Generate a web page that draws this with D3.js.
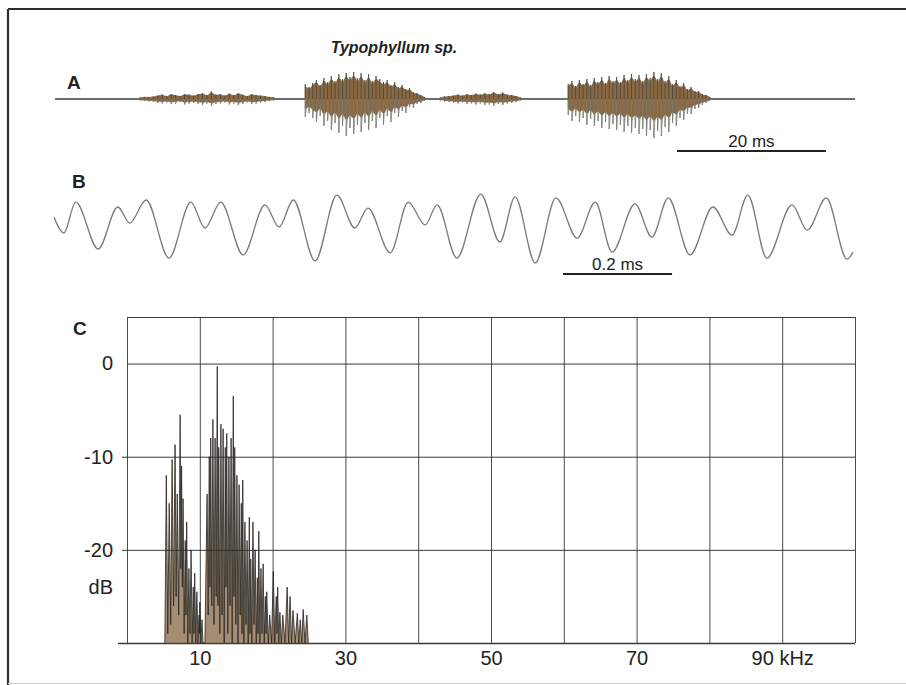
<!DOCTYPE html>
<html>
<head>
<meta charset="utf-8">
<script src="https://cdn.jsdelivr.net/npm/d3@7"></script>
<style>
body { margin: 0; background: #fff; }
svg text { font-family: "Liberation Sans", Arial, sans-serif; fill: #222; }
</style>
</head>
<body>
<div id="chart"></div>
<script>
// A: oscillogram, envelope per burst (time in ms, relative amplitude)
var aTotalMs = 107.4;
var b1Time = [11.4, 12.0, 12.6, 13.2, 13.8, 14.4, 15.0, 15.6, 16.2, 16.8, 17.4, 18.0, 18.6, 19.2, 19.8, 20.4, 21.0, 21.6, 22.2, 22.8, 23.4, 24.0, 24.6, 25.2, 25.8, 26.4, 27.0, 27.6, 28.2, 28.8, 29.4];
var b1Upper = [1.5, 2, 2, 2.5, 3.5, 4.5, 3, 5, 4, 3, 5, 4.5, 3.5, 5, 6, 4, 7.5, 4.5, 5, 3.5, 5.5, 4, 6, 4.5, 3, 5, 4, 3.5, 3, 2, 1.5];
var b1Lower = [-1.5, -2, -2.5, -3, -4, -4.5, -3.5, -5, -4.5, -3, -5.5, -4.5, -4, -5, -6, -4.5, -7, -5, -4.5, -3.5, -5.5, -4.5, -6, -5, -3.5, -5, -4.5, -3.5, -3, -2, -1.5];

var b2Time = [33.6, 34.1, 34.6, 35.1, 35.6, 36.1, 36.6, 37.1, 37.6, 38.1, 38.6, 39.1, 39.6, 40.1, 40.6, 41.1, 41.6, 42.1, 42.6, 43.1, 43.6, 44.1, 44.6, 45.1, 45.6, 46.1, 46.6, 47.1, 47.6, 48.1, 48.6, 49.1, 49.6];
var b2Upper = [15, 12, 16, 19, 14, 21, 17, 23, 18, 25, 20, 26, 22, 27, 21, 26, 19, 25, 18, 23, 20, 17, 19, 14, 17, 12, 14, 10, 11, 7, 6, 4, 2];
var b2Lower = [-18, -14, -19, -23, -17, -27, -22, -31, -24, -34, -27, -37, -29, -35, -26, -33, -24, -31, -22, -29, -19, -26, -17, -23, -14, -18, -12, -14, -8, -9, -5, -4, -2];

var b3Time = [51.7, 52.3, 52.9, 53.5, 54.1, 54.7, 55.3, 55.9, 56.5, 57.1, 57.7, 58.3, 58.9, 59.5, 60.1, 60.7, 61.3, 61.9, 62.5];
var b3Upper = [1.5, 2.5, 3, 3.5, 4.5, 3.5, 5, 4, 5.5, 4.5, 6, 5, 7, 5, 6.5, 4.5, 4, 3, 1.5];
var b3Lower = [-1.5, -2.5, -3, -4, -4.5, -3.5, -5, -4.5, -5.5, -4.5, -6, -5.5, -7, -5, -6, -4.5, -4, -3, -1.5];

var b4Time = [68.9, 69.4, 69.9, 70.4, 70.9, 71.4, 71.9, 72.4, 72.9, 73.4, 73.9, 74.4, 74.9, 75.4, 75.9, 76.4, 76.9, 77.4, 77.9, 78.4, 78.9, 79.4, 79.9, 80.4, 80.9, 81.4, 81.9, 82.4, 82.9, 83.4, 83.9, 84.4, 84.9, 85.4, 85.9, 86.4, 86.9, 87.4, 87.9];
var b4Upper = [15, 18, 13, 19, 15, 20, 14, 21, 17, 22, 16, 23, 18, 22, 17, 24, 19, 25, 20, 24, 18, 25, 21, 27, 20, 26, 18, 23, 15, 19, 13, 16, 10, 12, 8, 8, 5, 4, 2];
var b4Lower = [-16, -22, -17, -23, -19, -26, -20, -27, -22, -29, -23, -30, -25, -31, -26, -33, -27, -34, -29, -35, -30, -37, -31, -39, -32, -37, -28, -33, -24, -27, -19, -21, -15, -15, -10, -9, -6, -4, -2];

var aBarStart = 83.5, aBarLen = 20;

// B: expanded waveform, extrema (time in ms, relative amplitude)
var bTotalMs = 1.466;
var bTime = [0, 0.018, 0.040, 0.081, 0.117, 0.139, 0.169, 0.211, 0.251, 0.277, 0.306, 0.347, 0.387, 0.413, 0.439, 0.479, 0.519, 0.552, 0.576, 0.617, 0.650, 0.681, 0.703, 0.739, 0.783, 0.818, 0.846, 0.883, 0.921, 0.960, 0.993, 1.024, 1.066, 1.097, 1.127, 1.167, 1.209, 1.244, 1.273, 1.308, 1.354, 1.382, 1.417, 1.455, 1.466];
var bAmp = [0.31, -0.14, 0.74, -0.60, 0.60, 0.14, 0.80, -0.86, 0.74, 0, 0.74, -0.77, 0.66, 0.03, 0.80, -0.94, 0.94, 0, 0.57, -0.71, 0.74, 0.09, 0.66, -0.86, 0.97, -0.40, 0.89, -1.0, 0.86, -0.29, 0.74, -0.69, 0.69, -0.26, 0.86, -0.77, 0.60, -0.20, 0.94, -0.86, 0.66, -0.06, 0.86, -0.89, -0.69];
var bBarStart = 0.934, bBarLen = 0.2;

// C: spectrum (kHz, dB)
var specKHz = [5.2, 5.4, 5.6, 5.8, 6.0, 6.2, 6.4, 6.6, 6.75, 6.9, 7.1, 7.3, 7.4, 7.5, 7.6, 7.7, 7.85, 8.0, 8.1, 8.2, 8.35, 8.5, 8.65, 8.8, 8.95, 9.1, 9.2, 9.3, 9.45, 9.6, 9.75, 9.9, 9.95, 10.0, 10.15, 10.3, 10.45,
  10.7, 11.0, 11.15, 11.3, 11.4, 11.5, 11.65, 11.8, 11.95, 12.1, 12.25, 12.4, 12.5, 12.6, 12.75, 12.9, 13.05, 13.2, 13.35, 13.5, 13.6, 13.7, 13.85, 14.0, 14.15, 14.3, 14.45, 14.6, 14.7, 14.8, 14.95, 15.1, 15.25, 15.4, 15.55, 15.7, 15.8, 15.9, 16.05, 16.2, 16.35, 16.5, 16.65, 16.8, 16.9, 17.0, 17.15, 17.3, 17.45, 17.6, 17.75, 17.9, 18.0, 18.1, 18.25, 18.4, 18.55, 18.7, 18.85, 19.0, 19.1, 19.2, 19.4, 19.6, 19.85, 20.1, 20.3, 20.5, 20.6, 20.7, 20.85, 21.0, 21.2, 21.4, 21.7, 22.0, 22.2, 22.4, 22.6, 22.8, 23.1, 23.4, 23.6, 23.8, 24.0, 24.2, 24.45, 24.7, 24.9];
var specDB = [-30, -12, -29, -15, -28, -10.3, -26, -8.7, -25, -14, -27, -5.5, -22, -11, -24, -14.5, -29, -19, -27, -17, -30, -22, -29, -20, -30, -24, -29, -22.5, -30, -24.5, -30, -27, -29, -25.6, -30, -27.5, -30,
  -30, -14, -27, -10, -24, -8, -26, -6, -28, -8, -25, -0.3, -26, -9, -29, -6.5, -27, -7, -30, -9, -24, -7.5, -29, -10, -26, -8, -30, -3.5, -25, -9, -28, -12, -30, -13, -27, -15, -29, -12.5, -30, -17, -28, -19, -30, -16.5, -29, -21, -30, -17, -28, -20, -30, -23, -29, -18, -30, -22, -29, -21.5, -30, -25, -29, -24.5, -30, -27, -30, -22.3, -30, -25, -29, -24, -30, -26.7, -30, -27, -30, -24, -30, -25, -30, -26.5, -30, -26.8, -30, -27.5, -30, -26.4, -30, -27, -30];

var cGridKHz = [0, 10, 20, 30, 40, 50, 60, 70, 80, 90, 100];
var cGridDB = [5, 0, -10, -20, -30];
var cTickKHz = [10, 30, 50, 70, 90];
var cTickText = ["10", "30", "50", "70", "90 kHz"];
var cTickDB = [0, -10, -20];

var width = 906, height = 685;
var svg = d3.select("#chart").append("svg")
	.attr("width", width)
	.attr("height", height);

// outer frame
svg.append("line").attr("x1", 8).attr("x2", width).attr("y1", 9).attr("y2", 9)
	.attr("stroke", "#2e2e2e").attr("stroke-width", 2.2);
svg.append("line").attr("x1", 8).attr("x2", 8).attr("y1", 9).attr("y2", height)
	.attr("stroke", "#2e2e2e").attr("stroke-width", 2.2);
svg.append("line").attr("x1", 8).attr("x2", width).attr("y1", 683.5).attr("y2", 683.5)
	.attr("stroke", "#cfcfcf").attr("stroke-width", 1);

svg.append("text")
	.attr("x", 394).attr("y", 53)
	.attr("text-anchor", "middle")
	.attr("font-size", 16).attr("font-weight", "bold").attr("font-style", "italic")
	.text("Typophyllum sp.");

var panelLabels = [["A", 67, 89], ["B", 72, 188], ["C", 73, 335]];
svg.selectAll("text.plabel")
	.data(panelLabels)
	.enter()
	.append("text")
	.attr("class", "plabel")
	.attr("x", function(d) { return d[1]; })
	.attr("y", function(d) { return d[2]; })
	.attr("font-size", 19).attr("font-weight", "bold").attr("fill", "#2a2a2a")
	.text(function(d) { return d[0]; });

// ---- A ----
var aX = d3.scaleLinear().domain([0, aTotalMs]).range([55, 855]);
var aY = d3.scaleLinear().domain([-40, 40]).range([139, 59]);

var gA = svg.append("g").attr("class", "panel_a");
gA.append("line")
	.attr("x1", aX(0)).attr("x2", aX(aTotalMs))
	.attr("y1", aY(0)).attr("y2", aY(0))
	.attr("stroke", "#3c3c3c").attr("stroke-width", 1.5);

var bursts = [
	{t: b1Time, hi: b1Upper, lo: b1Lower},
	{t: b2Time, hi: b2Upper, lo: b2Lower},
	{t: b3Time, hi: b3Upper, lo: b3Lower},
	{t: b4Time, hi: b4Upper, lo: b4Lower}
];

bursts.forEach(function(b) {
	var pts = b.t.map(function(t, i) { return {t: t, hi: b.hi[i], lo: b.lo[i]}; });
	// light zigzag through each sample's extremes
	var zz = "";
	pts.forEach(function(d, i) {
		zz += (i == 0 ? "M" : "L") + aX(d.t) + "," + aY(d.hi) + "L" + aX(d.t) + "," + aY(d.lo);
	});
	gA.append("path").attr("d", zz)
		.attr("fill", "none").attr("stroke", "#a3a39d").attr("stroke-width", 0.9);
	var core = d3.area()
		.x(function(d) { return aX(d.t); })
		.y0(function(d) { return aY(d.lo * 0.55); })
		.y1(function(d) { return aY(d.hi * 0.85); })
		.curve(d3.curveMonotoneX);
	gA.append("path").datum(pts).attr("d", core)
		.attr("fill", "#8a6841").attr("stroke", "#6f5a3c").attr("stroke-width", 0.6);
	// upper spikes darker, lower spikes grey
	gA.selectAll(null).data(pts).enter().append("line")
		.attr("x1", function(d) { return aX(d.t); })
		.attr("x2", function(d) { return aX(d.t); })
		.attr("y1", aY(0))
		.attr("y2", function(d) { return aY(d.hi); })
		.attr("stroke", "#4c4a40").attr("stroke-width", 0.9);
	gA.selectAll(null).data(pts).enter().append("line")
		.attr("x1", function(d) { return aX(d.t); })
		.attr("x2", function(d) { return aX(d.t); })
		.attr("y1", aY(0))
		.attr("y2", function(d) { return aY(d.lo); })
		.attr("stroke", "#7c7b74").attr("stroke-width", 0.9);
});

gA.append("line")
	.attr("x1", aX(aBarStart)).attr("x2", aX(aBarStart + aBarLen))
	.attr("y1", 151).attr("y2", 151)
	.attr("stroke", "#222").attr("stroke-width", 2);
gA.append("text")
	.attr("x", aX(aBarStart + aBarLen / 2)).attr("y", 147)
	.attr("text-anchor", "middle").attr("font-size", 17)
	.text("20 ms");

// ---- B ----
var bX = d3.scaleLinear().domain([0, bTotalMs]).range([54, 853]);
var bY = d3.scaleLinear().domain([-1, 1]).range([263, 193]);
var gB = svg.append("g").attr("class", "panel_b");
var bLine = d3.line()
	.x(function(d, i) { return bX(bTime[i]); })
	.y(function(d) { return bY(d); })
	.curve(d3.curveMonotoneX);
gB.append("path").datum(bAmp).attr("d", bLine)
	.attr("fill", "none").attr("stroke", "#7a7a7a").attr("stroke-width", 1.3);
gB.append("line")
	.attr("x1", bX(bBarStart)).attr("x2", bX(bBarStart + bBarLen))
	.attr("y1", 274).attr("y2", 274)
	.attr("stroke", "#222").attr("stroke-width", 2);
gB.append("text")
	.attr("x", bX(bBarStart + bBarLen / 2)).attr("y", 270)
	.attr("text-anchor", "middle").attr("font-size", 17)
	.text("0.2 ms");

// ---- C ----
var cX = d3.scaleLinear().domain([0, 100]).range([127, 855]);
var cY = d3.scaleLinear().domain([-30, 5]).range([643, 317]);
var gC = svg.append("g").attr("class", "panel_c");

var vGrid = gC.append("g")
	.attr("transform", "translate(0," + cY(-30) + ")")
	.call(d3.axisBottom(cX).tickValues(cGridKHz).tickSize(-(cY(-30) - cY(5))).tickFormat(""));
vGrid.select(".domain").remove();
vGrid.selectAll("line").attr("stroke", "#4a4a4a").attr("stroke-width", 1);

var hGrid = gC.append("g")
	.attr("transform", "translate(" + cX(0) + ",0)")
	.call(d3.axisLeft(cY).tickValues(cGridDB).tickSize(-(cX(100) - cX(0))).tickFormat(""));
hGrid.select(".domain").remove();
hGrid.selectAll("line")
	.attr("x1", function(d) { return d == -30 ? -9 : (d < 0 ? -5 : 0); })
	.attr("stroke", "#3a3a3a")
	.attr("stroke-width", function(d) { return d == -30 ? 1.6 : 1; });

var specPts = specKHz.map(function(f, i) { return [f, specDB[i]]; });
gC.append("path").datum(specPts)
	.attr("d", d3.area()
		.x(function(d) { return cX(d[0]); })
		.y0(cY(-30))
		.y1(function(d) { return cY(d[1]); }))
	.attr("fill", "#7d5c38").attr("opacity", 0.7);
gC.append("path").datum(specPts)
	.attr("d", d3.line()
		.x(function(d) { return cX(d[0]); })
		.y(function(d) { return cY(d[1]); }))
	.attr("fill", "none").attr("stroke", "#26231f").attr("stroke-width", 0.8);

var yLab = gC.append("g")
	.attr("transform", "translate(" + cX(0) + ",0)")
	.call(d3.axisLeft(cY).tickValues(cTickDB).tickSize(0).tickPadding(14)
		.tickFormat(function(d) { return String(d); }));
yLab.select(".domain").remove();
yLab.attr("font-size", 20).attr("font-family", null);
yLab.selectAll("text").attr("fill", "#222");
gC.append("text")
	.attr("x", cX(0) - 14).attr("y", cY(-24)).attr("dy", "0.32em")
	.attr("text-anchor", "end").attr("font-size", 20)
	.text("dB");

var xLab = gC.append("g")
	.attr("transform", "translate(0," + cY(-30) + ")")
	.call(d3.axisBottom(cX).tickValues(cTickKHz).tickSize(0).tickPadding(8)
		.tickFormat(function(d, i) { return cTickText[i]; }));
xLab.select(".domain").remove();
xLab.attr("font-size", 20).attr("font-family", null);
xLab.selectAll("text").attr("fill", "#222");
</script>
</body>
</html>
